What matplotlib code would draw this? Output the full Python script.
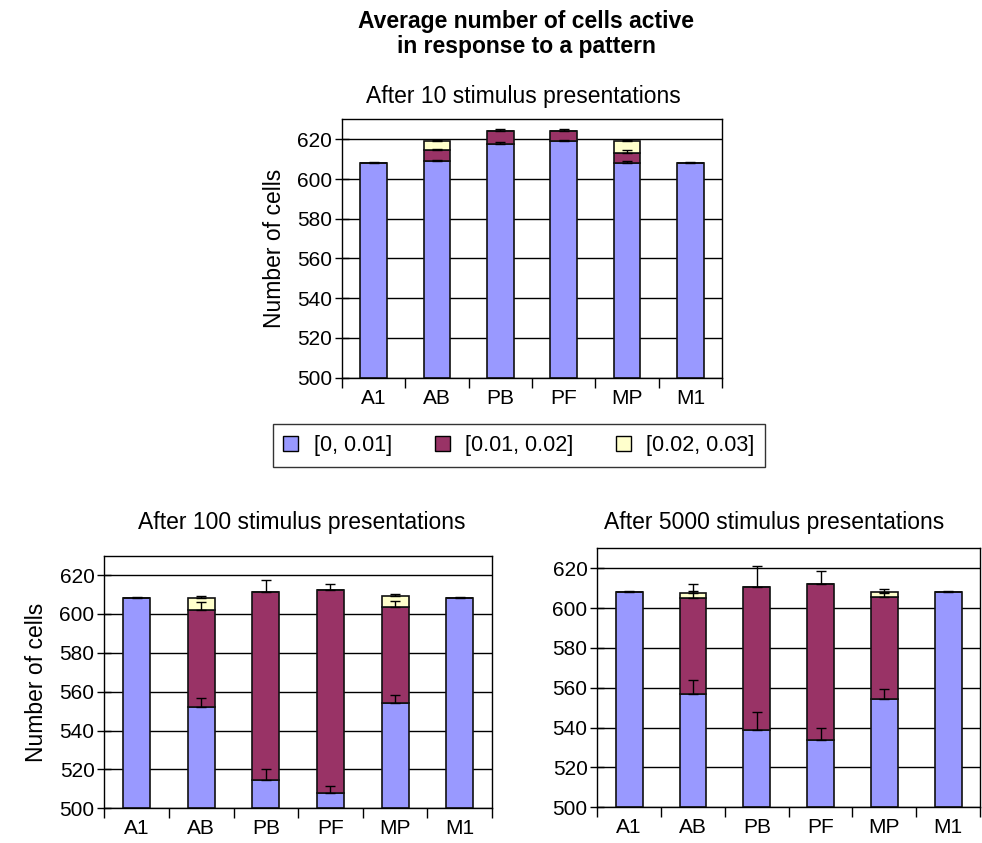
import numpy as np
import matplotlib.pyplot as plt
from matplotlib.patches import Patch

plt.rcParams['font.family'] = ['Liberation Sans', 'DejaVu Sans']

#---------DATA------------
groups = ['A1', 'AB', 'PB', 'PF', 'MP', 'M1']
legend_labels = ['[0, 0.01]', '[0.01, 0.02]', '[0.02, 0.03]']

# after 10 presentations: segment heights and (upper) errors
blue_10 = [608.3, 609.0, 617.5, 619.0, 608.2, 608.3]
maroon_10 = [0, 5.5, 6.8, 5.3, 5.1, 0]
yellow_10 = [0, 4.6, 0, 0, 5.8, 0]
blue_err_10 = [0.3, 0.7, 1.3, 0.6, 1.0, 0.3]
maroon_err_10 = [0, 0.8, 1.0, 0.8, 1.2, 0]
yellow_err_10 = [0, 0.5, 0, 0, 0.5, 0]

# after 100 presentations
blue_100 = [608.3, 552.0, 514.5, 508.0, 554.3, 608.3]
maroon_100 = [0, 50.2, 96.8, 104.4, 49.3, 0]
yellow_100 = [0, 6.1, 0, 0, 5.6, 0]
blue_err_100 = [0.3, 4.7, 5.5, 3.3, 4.1, 0.3]
maroon_err_100 = [0, 4.1, 6.4, 3.0, 3.2, 0]
yellow_err_100 = [0, 0.9, 0, 0, 0.9, 0]

# after 5000 presentations
blue_5000 = [608.1, 556.8, 538.7, 533.6, 554.5, 608.1]
maroon_5000 = [0, 48.1, 71.8, 78.4, 51.2, 0]
yellow_5000 = [0, 2.5, 0, 0, 2.5, 0]
blue_err_5000 = [0.3, 6.9, 9.3, 6.0, 4.7, 0.3]
maroon_err_5000 = [0, 7.1, 10.7, 6.8, 2.0, 0]
yellow_err_5000 = [0, 1.2, 0, 0, 1.4, 0]

colors = ['#9999FF', '#993366', '#FFFFCC']

#---------FIGURE------------
W, H = 982, 843
fig = plt.figure(figsize=(W/100, H/100), dpi=100)

def box(l, t, r, b):
    # pixel box -> figure axes rect
    return [l/W, 1-b/H, (r-l)/W, (b-t)/H]

def draw_panel(ax, blue, maroon, yellow, errs, ylabel=True):
    x = np.arange(len(groups))
    blue = np.array(blue)
    maroon = np.array(maroon)
    yellow = np.array(yellow)
    bottoms = [np.full(len(x), 500.0), blue, blue + maroon]
    tops = [blue, blue + maroon, blue + maroon + yellow]
    for i, c in enumerate(colors):
        h = tops[i] - bottoms[i]
        ax.bar(x, h, 0.42, bottom=bottoms[i], color=c, edgecolor='#111111',
               linewidth=1.2, zorder=2)
    for i in range(3):
        e = np.array(errs[i])
        show = (tops[i] - bottoms[i]) > 0
        ax.errorbar(x[show], tops[i][show], yerr=[np.zeros(show.sum()), e[show]],
                    fmt='none', ecolor='black', elinewidth=1, capsize=3.6,
                    capthick=1, zorder=3)
    ax.set_ylim(500, 630)
    ax.set_xlim(-0.5, len(groups) - 0.5)
    ax.set_yticks(np.arange(500, 621, 20))
    ax.set_xticks(x)
    ax.set_xticklabels(groups)
    ax.set_xticks(np.arange(-0.5, len(groups), 1), minor=True)
    ax.tick_params(axis='x', which='major', length=0, labelsize=15, pad=8)
    ax.tick_params(axis='x', which='minor', length=7, direction='out', width=1)
    ax.tick_params(axis='y', direction='inout', length=10, width=1, labelsize=15, pad=2)
    ax.yaxis.grid(True, color='black', linewidth=1)
    ax.set_axisbelow(True)
    for s in ax.spines.values():
        s.set_linewidth(1)
    if ylabel:
        ax.set_ylabel('Number of cells', fontsize=16.5, labelpad=8)

ax1 = fig.add_axes(box(342, 119.4, 722, 377.7))
draw_panel(ax1, blue_10, maroon_10, yellow_10,
           [blue_err_10, maroon_err_10, yellow_err_10])

ax2 = fig.add_axes(box(104.3, 555.7, 492, 808.3))
draw_panel(ax2, blue_100, maroon_100, yellow_100,
           [blue_err_100, maroon_err_100, yellow_err_100])

ax3 = fig.add_axes(box(597.3, 548.3, 980, 807.3))
draw_panel(ax3, blue_5000, maroon_5000, yellow_5000,
           [blue_err_5000, maroon_err_5000, yellow_err_5000], ylabel=False)

#---------TEXT------------
fig.text(526/W, 1-21.7/H, 'Average number of cells active', ha='center', va='center',
         fontsize=16.5, fontweight='bold')
fig.text(526/W, 1-46.7/H, 'in response to a pattern', ha='center', va='center',
         fontsize=16.5, fontweight='bold')
fig.text(523/W, 1-96.7/H, 'After 10 stimulus presentations', ha='center', va='center',
         fontsize=16.5)
fig.text(302/W, 1-523/H, 'After 100 stimulus presentations', ha='center', va='center',
         fontsize=16.5)
fig.text(774/W, 1-523/H, 'After 5000 stimulus presentations', ha='center', va='center',
         fontsize=16.5)

handles = [Patch(facecolor=c, edgecolor='black', linewidth=1) for c in colors]
leg = fig.legend(handles, legend_labels, loc='center', ncol=3,
                 bbox_to_anchor=(519/W, 1-445.5/H), fontsize=15.5,
                 frameon=True, fancybox=False, edgecolor='black',
                 handlelength=0.7, handleheight=0.7, handletextpad=0.7,
                 columnspacing=2.0, borderpad=0.5, borderaxespad=0)
leg.get_frame().set_linewidth(1)

fig.savefig('out.png', dpi=100)
